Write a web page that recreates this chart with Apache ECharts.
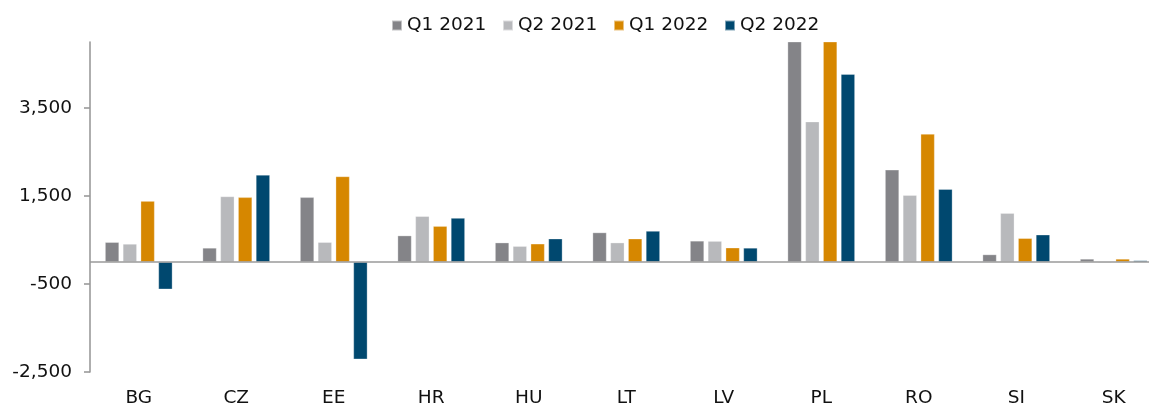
<!DOCTYPE html>
<html>
<head>
<meta charset="utf-8">
<script src="https://cdn.jsdelivr.net/npm/echarts@6/dist/echarts.min.js"></script>
<style>
html,body{margin:0;padding:0;background:#fff;overflow:hidden;}
#wrap{width:1149px;height:408px;overflow:hidden;position:relative;}
#chart{width:1164px;height:408px;position:absolute;left:0;top:0;}
</style>
</head>
<body>
<div id="wrap"><div id="chart"></div></div>
<script>
const categories = ['BG','CZ','EE','HR','HU','LT','LV','PL','RO','SI','SK'];
const seriesNames = ['Q1 2021','Q2 2021','Q1 2022','Q2 2022'];
const q1_2021 = [450, 320, 1470, 600, 440, 670, 480, 5600, 2095, 170, 70];
const q2_2021 = [410, 1490, 450, 1040, 360, 440, 475, 3190, 1520, 1110, -20];
const q1_2022 = [1385, 1470, 1945, 815, 415, 530, 325, 6200, 2910, 540, 70];
const q2_2022 = [-620, 1980, -2210, 1000, 530, 705, 320, 4270, 1655, 620, 35];
const yTicks = [-2500, -500, 1500, 3500];
const colors = ['#848488', '#b8b9bc', '#d68700', '#00486f'];

const FONT = "'DejaVu Sans', sans-serif";
const values = [q1_2021, q2_2021, q1_2022, q2_2022];

const chart = echarts.init(document.getElementById('chart'), null, {renderer: 'canvas'});
const series = seriesNames.map((name, i) => {
  const s = {
    name: name,
    type: 'bar',
    data: values[i],
    barWidth: 14,
    barGap: '27%',
    itemStyle: {color: colors[i], borderColor: 'rgba(255,255,255,0.5)', borderWidth: 0.6},
    emphasis: {disabled: true},
    animation: false
  };
  if (i === 0) {
    s.markLine = {
      silent: true,
      symbol: 'none',
      label: {show: false},
      lineStyle: {color: '#9a9a9a', width: 1.6, type: 'solid'},
      data: [{yAxis: 0}],
      animation: false
    };
  }
  return s;
});

chart.setOption({
  animation: false,
  color: colors,
  legend: {
    data: seriesNames,
    left: 391,
    top: 16,
    padding: 0,
    icon: 'rect',
    itemWidth: 10,
    itemHeight: 10,
    itemGap: 15.7,
    textStyle: {fontFamily: FONT, fontSize: 18.5, color: '#111'}
  },
  grid: {left: 90, top: 42, right: 1.5, height: 331, containLabel: false},
  xAxis: {
    type: 'category',
    data: categories,
    axisLine: {show: false},
    axisTick: {show: false},
    axisLabel: {fontFamily: FONT, fontSize: 18.5, color: '#111', margin: 17}
  },
  yAxis: {
    type: 'value',
    min: -2500,
    max: 5000,
    splitLine: {show: false},
    axisLine: {show: true, lineStyle: {color: '#9a9a9a', width: 1.6}},
    axisTick: {show: true, customValues: yTicks, length: 6, lineStyle: {color: '#9a9a9a', width: 1.6}},
    axisLabel: {
      customValues: yTicks,
      fontFamily: FONT, fontSize: 18.5, color: '#111', margin: 18,
      formatter: v => v.toLocaleString('en-US')
    }
  },
  series: series
});
</script>
</body>
</html>
